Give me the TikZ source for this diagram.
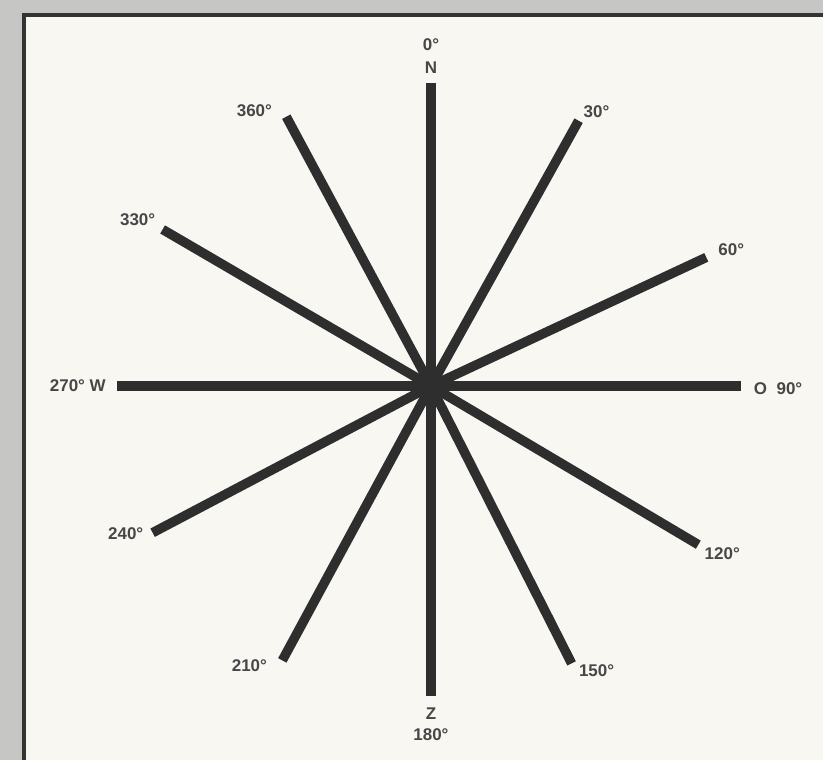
\documentclass[tikz,border=0pt]{standalone}
\usepackage{fontspec}
\setmainfont{Liberation Sans}
\usepackage{xcolor}
\colorlet{colSpoke}{black!82}
\definecolor{colPaper}{HTML}{F8F7F2}
\definecolor{colMat}{HTML}{C6C6C4}
\usetikzlibrary{positioning}

\begin{document}
\begin{tikzpicture}[x=1pt, y=1pt,
		spoke/.style={line width=9.5pt, colSpoke},
		deg/.style={font=\fontsize{17}{19}\selectfont\bfseries, text=black!72, inner sep=0pt}]
	% mount and paper
	\fill[colMat] (-432,-375) rectangle (393,387);
	\fill[colPaper] (-407.5,-375) rectangle (393,372);
	\draw[line width=4pt, black!80] (-407.5,-375) -- (-407.5,372) -- (393,372);
	\useasboundingbox (-432,-375) rectangle (393,387);
	\coordinate (c) at (0,0);
	% spokes
	\foreach \nm/\x/\y in {n/0/304, a30/148/266, a60/276/129, o/311/0,
			a120/268/-159, a150/141/-278, z/0/-311, a210/-149/-275,
			a240/-279/-147, w/-315/0, a330/-269/157, a360/-145/270}{
		\coordinate (e\nm) at (\x,\y);
		\draw[spoke] (c) -- (e\nm);
	}
	% labels
	\node[deg] (l0) at (0,342) {0°};
	\node[deg] (lN) at (0,319) {N};
	\node[deg] (l30) at (166,275) {30°};
	\node[deg] (l60) at (301,137) {60°};
	\node[deg] (l90) at (348,-3) {O\ \ 90°};
	\node[deg] (l120) at (292,-168) {120°};
	\node[deg] (l150) at (166,-285) {150°};
	\node[deg] (lZ) at (0,-328) {Z};
	\node[deg] (l180) at (0,-349) {180°};
	\node[deg] (l210) at (-182,-280) {210°};
	\node[deg] (l240) at (-306,-148) {240°};
	\node[deg] (l270) at (-354,0) {270° W};
	\node[deg] (l330) at (-294,167) {330°};
	\node[deg] (l360) at (-177,276) {360°};
\end{tikzpicture}
\end{document}
